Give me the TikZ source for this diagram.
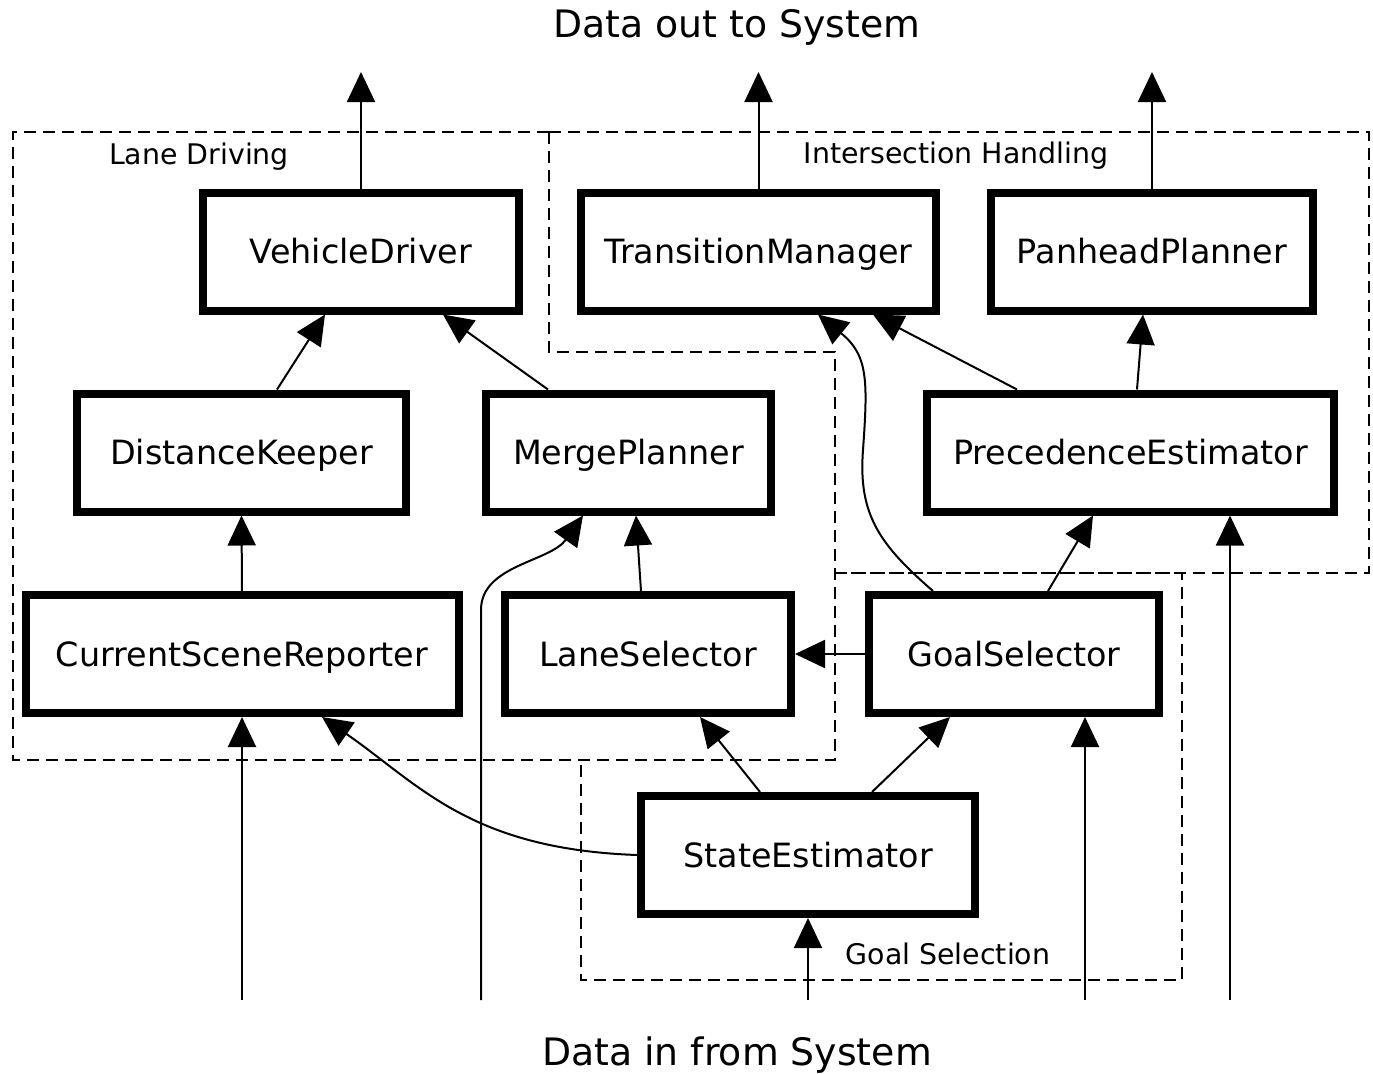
\documentclass[tikz,border=0pt]{standalone}
\usepackage{fontspec}
\setmainfont{DejaVu Sans}
\usetikzlibrary{arrows.meta,calc}

\begin{document}
\begin{tikzpicture}[x=0.5pt,y=-0.5pt,
  block/.style={draw,line width=4pt,minimum height=59pt,text height=12.2pt,text depth=0pt,font=\fontsize{16.7}{20}\selectfont},
  arr/.style={-{Triangle[length=15pt,width=14pt]},line width=1pt},
  region/.style={line width=0.7pt,dash pattern=on 6pt off 3.5pt},
  grp/.style={anchor=base,font=\fontsize{14.2}{17}\selectfont},
  ttl/.style={anchor=base,font=\fontsize{18.9}{22}\selectfont}]
\useasboundingbox (0,0) rectangle (1373,1073);

\node[ttl] (dataout) at (737,37) {Data out to System};
\node[ttl] (datain) at (737,1065) {Data in from System};

\draw[region] (549,132)--(13,132)--(13,760)--(835,760)--(835,352)--(549,352)--cycle;
\draw[region] (549,132)--(1369,132)--(1369,573)--(835,573);
\draw[region] (835,573)--(1182,573)--(1182,980)--(581,980)--(581,760);
\node[grp] (lanedriving) at (199,164) {Lane Driving};
\node[grp] (intersection) at (956,163) {Intersection Handling};
\node[grp] (goalselection) at (948,964) {Goal Selection};

\node[block,minimum width=158pt] (vd) at (361,251.5) {VehicleDriver};
\node[block,minimum width=177.5pt] (tm) at (758.5,251.5) {TransitionManager};
\node[block,minimum width=161pt] (pp) at (1152,251.5) {PanheadPlanner};
\node[block,minimum width=164.5pt] (dk) at (241.5,452.5) {DistanceKeeper};
\node[block,minimum width=142.5pt] (mp) at (628.5,452.5) {MergePlanner};
\node[block,minimum width=203.5pt] (pe) at (1130.5,452.5) {PrecedenceEstimator};
\node[block,minimum width=216.5pt] (csr) at (242,654) {CurrentSceneReporter};
\node[block,minimum width=143pt] (ls) at (648,654) {LaneSelector};
\node[block,minimum width=145pt] (gs) at (1014,654) {GoalSelector};
\node[block,minimum width=167pt] (se) at (808,855) {StateEstimator};

\coordinate (out1) at (361,72);
\coordinate (out2) at (758.5,72);
\coordinate (out3) at (1152,72);
\coordinate (in1) at (242,1000);
\coordinate (in2) at (481,1000);
\coordinate (in3) at (808,1000);
\coordinate (in4) at (1085,1000);
\coordinate (in5) at (1230,1000);

% outputs
\draw[arr] (vd.north)--(out1);
\draw[arr] (tm.north)--(out2);
\draw[arr] (pp.north)--(out3);

\draw[arr] ($(dk.north)+(35.5,0)$)--($(vd.south)+(-36,0)$);
\draw[arr] ($(mp.north)+(-80.5,0)$)--($(vd.south)+(82,0)$);
\draw[arr] (csr.north)--(dk.south);
\draw[arr] ($(ls.north)+(-7,0)$)--($(mp.south)+(7.5,0)$);
\draw[arr] ($(se.north)+(-48,0)$)--($(ls.south)+(52,0)$);
\draw[arr] ($(se.north)+(64,0)$)--($(gs.south)+(-64,0)$);
\draw[arr] (gs.west)--(ls.east);
\draw[arr] ($(gs.north)+(34,0)$)--($(pe.south)+(-37.5,0)$);
\draw[arr] ($(pe.north)+(-113.5,0)$)--($(tm.south)+(114.5,0)$);
\draw[arr] ($(pe.north)+(6.5,0)$)--($(pp.south)+(-9,0)$);
\draw[arr] ($(gs.north)+(-81,0)$) .. controls (880,545) and (858,515) .. (863,450)
  .. controls (868,380) and (868,355) .. ($(tm.south)+(59.5,0)$);
\draw[arr] (se.west) .. controls (470,849) and (420,785) .. ($(csr.south)+(80,0)$);

% inputs
\draw[arr] (in1)--(csr.south);
\draw[arr] (in2)--(481,610) .. controls (481,565) and (550,562) .. ($(mp.south)+(-45.5,0)$);
\draw[arr] (in3)--(se.south);
\draw[arr] (in4)--(in4 |- gs.south);
\draw[arr] (in5)--(in5 |- pe.south);
\end{tikzpicture}
\end{document}
